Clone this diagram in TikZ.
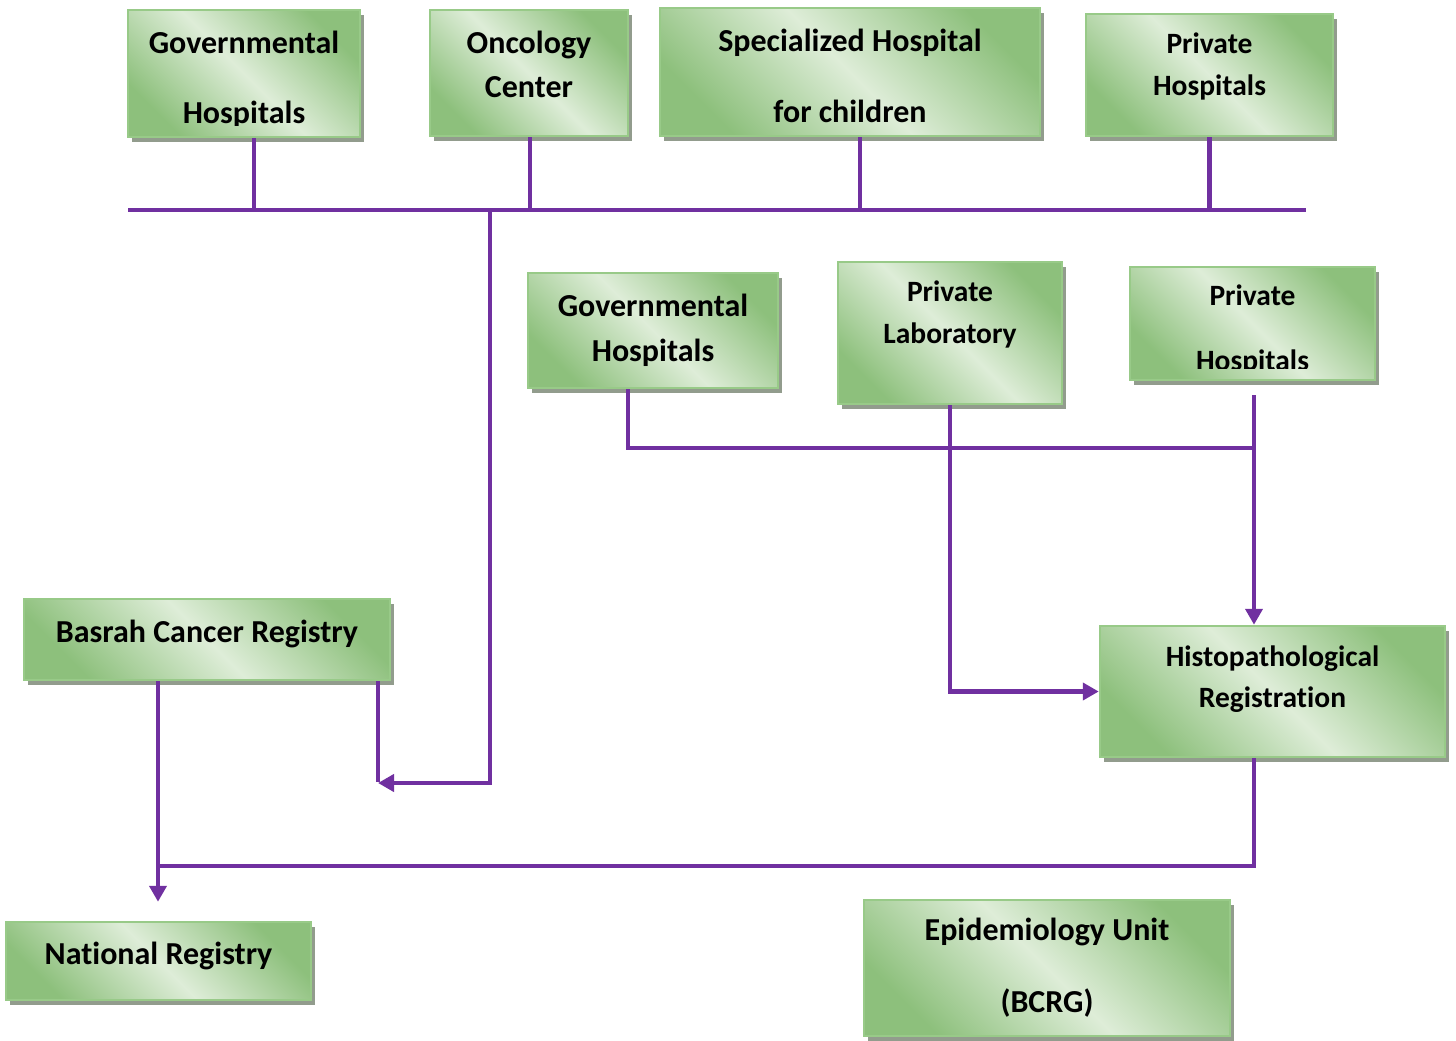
\documentclass[tikz,border=0pt]{standalone}
\usepackage{fontspec}
\setmainfont[Ligatures=NoCommon]{Carlito}
\usetikzlibrary{calc}
\usetikzlibrary{shadows,arrows.meta}
\definecolor{regdark}{RGB}{141,192,124}
\definecolor{reglight}{RGB}{222,237,216}
\definecolor{regedge}{RGB}{152,202,136}
\definecolor{regshadow}{RGB}{146,156,141}
\definecolor{linepurple}{RGB}{112,48,160}
\tikzset{
  regbox/.style={rectangle, draw=regedge, line width=2.5pt,
    top color=regdark, bottom color=regdark, middle color=reglight, shading angle=-45,
    general shadow={fill=regshadow, shadow xshift=4pt, shadow yshift=-5pt},
    inner sep=0pt},
  regtext/.style={align=center, inner sep=0pt, font=\bfseries\fontsize{32}{38}\selectfont},
  smalltext/.style={font=\bfseries\fontsize{29.5}{35}\selectfont},
  link/.style={draw=linepurple, line width=4.5pt},
  flow/.style={link, -{Triangle[length=16pt,width=17pt]}}
}
% box with its text clipped inside, text moved down by #7
\newcommand{\regbox}[8][]{\node[regbox,minimum width=#5pt,minimum height=#6pt,
    path picture={
      \clip (path picture bounding box.north west) rectangle ([yshift=12pt]path picture bounding box.south east);
      \node[regtext,#1] (#2text) at ([yshift=-#7pt]path picture bounding box.center) {#8};
    }] (#2) at (#3,#4) {};}

\begin{document}
\begin{tikzpicture}[x=1pt,y=-1pt]
        \useasboundingbox (0,0) rectangle (1456,1041);

        %nodes
        \regbox{gh1}{244}{73.5}{232}{127}{6}{Governmental\\[32pt]Hospitals}
        \regbox{onc}{529}{73}{198}{126}{-9}{Oncology\\[6pt]Center}
        \regbox{spec}{850}{72}{380}{128}{4}{Specialized Hospital\\[33pt]for children}
        \regbox[smalltext]{ph1}{1209.5}{75}{247}{122}{-9}{Private\\[7pt]Hospitals}
        \regbox{gh2}{653}{330.5}{250}{115}{0}{Governmental\\[7pt]Hospitals}
        \regbox[smalltext]{plab}{950}{333}{224}{142}{-19}{Private\\[7pt]Laboratory}
        \regbox[smalltext]{ph2}{1252.5}{323.5}{245}{113}{6}{Private\\[30pt]Hospitals}
        \regbox{bcr}{207}{639.5}{366}{81}{-6}{Basrah Cancer Registry}
        \regbox[smalltext]{hist}{1272.5}{691.5}{345}{131}{-12}{Histopathological\\[6pt]Registration}
        \regbox{nr}{158.5}{961}{305}{78}{-5}{National Registry}
        \regbox{epi}{1047}{968}{366}{136}{0}{Epidemiology Unit\\[34pt](BCRG)}

        %edges
        \coordinate (busL) at (128,210);
        \coordinate (busR) at (1306,210);
        \coordinate (trunk) at (490,210);
        \coordinate (bcrin) at (378,783);
        \coordinate (midjoin) at (1254,448);
        \coordinate (lowjoin) at (158,866);
        \draw[link] (busL) -- (busR);
        \draw[link] ([xshift=10pt]gh1.south) -- ([xshift=10pt]gh1.south |- busL);
        \draw[link] ([xshift=1pt]onc.south) -- ([xshift=1pt]onc.south |- busL);
        \draw[link] ([xshift=10pt]spec.south) -- ([xshift=10pt]spec.south |- busL);
        \draw[link] (ph1.south) -- (ph1.south |- busL);
        \draw[flow] (trunk) |- (bcrin);
        \draw[link] (bcr.south -| bcrin) -- ([yshift=1pt]bcrin);
        \draw[link] ([xshift=-25pt]gh2.south) |- (midjoin);
        \draw[flow] ([yshift=-14pt]ph2.south -| midjoin) -- (hist.north -| midjoin);
        \draw[flow] (plab.south) |- (hist.west);
        \draw[link] (hist.south -| midjoin) |- (lowjoin);
        \draw[flow] (bcr.south -| lowjoin) -- ([yshift=19pt]nr.north -| lowjoin);
\end{tikzpicture}
\end{document}
